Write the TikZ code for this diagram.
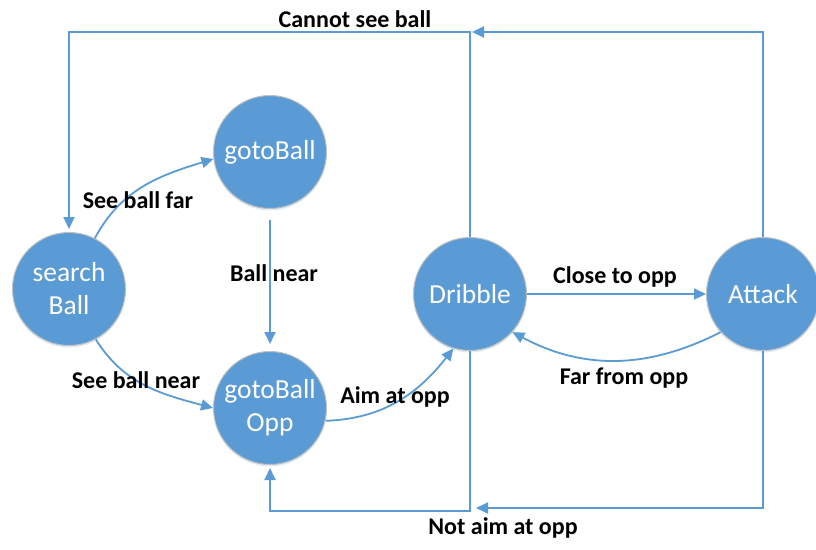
\documentclass[tikz,border=0pt]{standalone}
\usepackage{fontspec}
\setmainfont{Carlito}
\usetikzlibrary{arrows.meta,shadows}
\definecolor{obl}{RGB}{91,155,213}
\tikzset{
  st/.style={circle, fill=obl, draw=black!25, line width=1pt, minimum size=113pt, inner sep=0pt,
    text=white, align=center, font=\fontsize{27.5}{33}\selectfont,
    drop shadow={opacity=0.18, shadow xshift=0pt, shadow yshift=-2pt, fill=obl}},
  arr/.style={draw=obl, line width=1.8pt, -{Triangle[length=12pt,width=11pt]}},
  ln/.style={draw=obl, line width=1.8pt},
  lab/.style={font=\fontsize{24}{28}\selectfont\bfseries, text=black, inner sep=0pt}
}
\begin{document}
\begin{tikzpicture}[x=1pt,y=-1pt]
\useasboundingbox (0,0) rectangle (816,549);
\clip (0,0) rectangle (816,549);
\fill[white] (0,0) rectangle (816,549);
% states
\node[st] (sb) at (69,289) {search\\Ball};
\node[st] (gb) at (270,152) {gotoBall};
\node[st] (gbo) at (270,408) {gotoBall\\Opp};
\node[st] (dr) at (470,294) {Dribble};
\node[st] (at) at (763,294) {Attack};
% junction coordinates
\coordinate (cj) at (470,32);
\coordinate (tj) at (472,32);
\coordinate (bj) at (476,508);
\coordinate (bk) at (270,511);
% Cannot see ball
\draw[arr] (at.north) |- (tj);
\draw[arr, shorten >=3pt] (dr.north) -- (cj) -| (sb.north);
% See ball far
\draw[arr] (sb.63) to[out=62, in=197] (gb.187);
% See ball near
\draw[arr] (sb.-62) to[out=-58, in=165] (gbo.180);
% Ball near
\draw[arr, shorten <=11pt, shorten >=7pt] (gb.south) -- (gbo.north);
% Aim at opp
\draw[arr] (gbo.-13) to[out=2, in=232] (dr.253);
% Close to opp
\draw[arr] (dr.east) -- (at.west);
% Far from opp
\draw[arr] (at.222) to[out=207, in=-28] (dr.-42);
% Not aim at opp
\draw[arr] (at.south) |- (bj);
\draw[arr, shorten >=3pt] (dr.south) |- (bk) -- (gbo.south);
% labels
\node[lab] (l1) at (355,19) {Cannot see ball};
\node[lab] (l2) at (138,200) {See ball far};
\node[lab] (l3) at (274,273) {Ball near};
\node[lab] (l4) at (136,380) {See ball near};
\node[lab] (l5) at (395,397) {Aim at opp};
\node[lab] (l6) at (615,277) {Close to opp};
\node[lab] (l7) at (624,378) {Far from opp};
\node[lab] (l8) at (503,528) {Not aim at opp};
\end{tikzpicture}
\end{document}
